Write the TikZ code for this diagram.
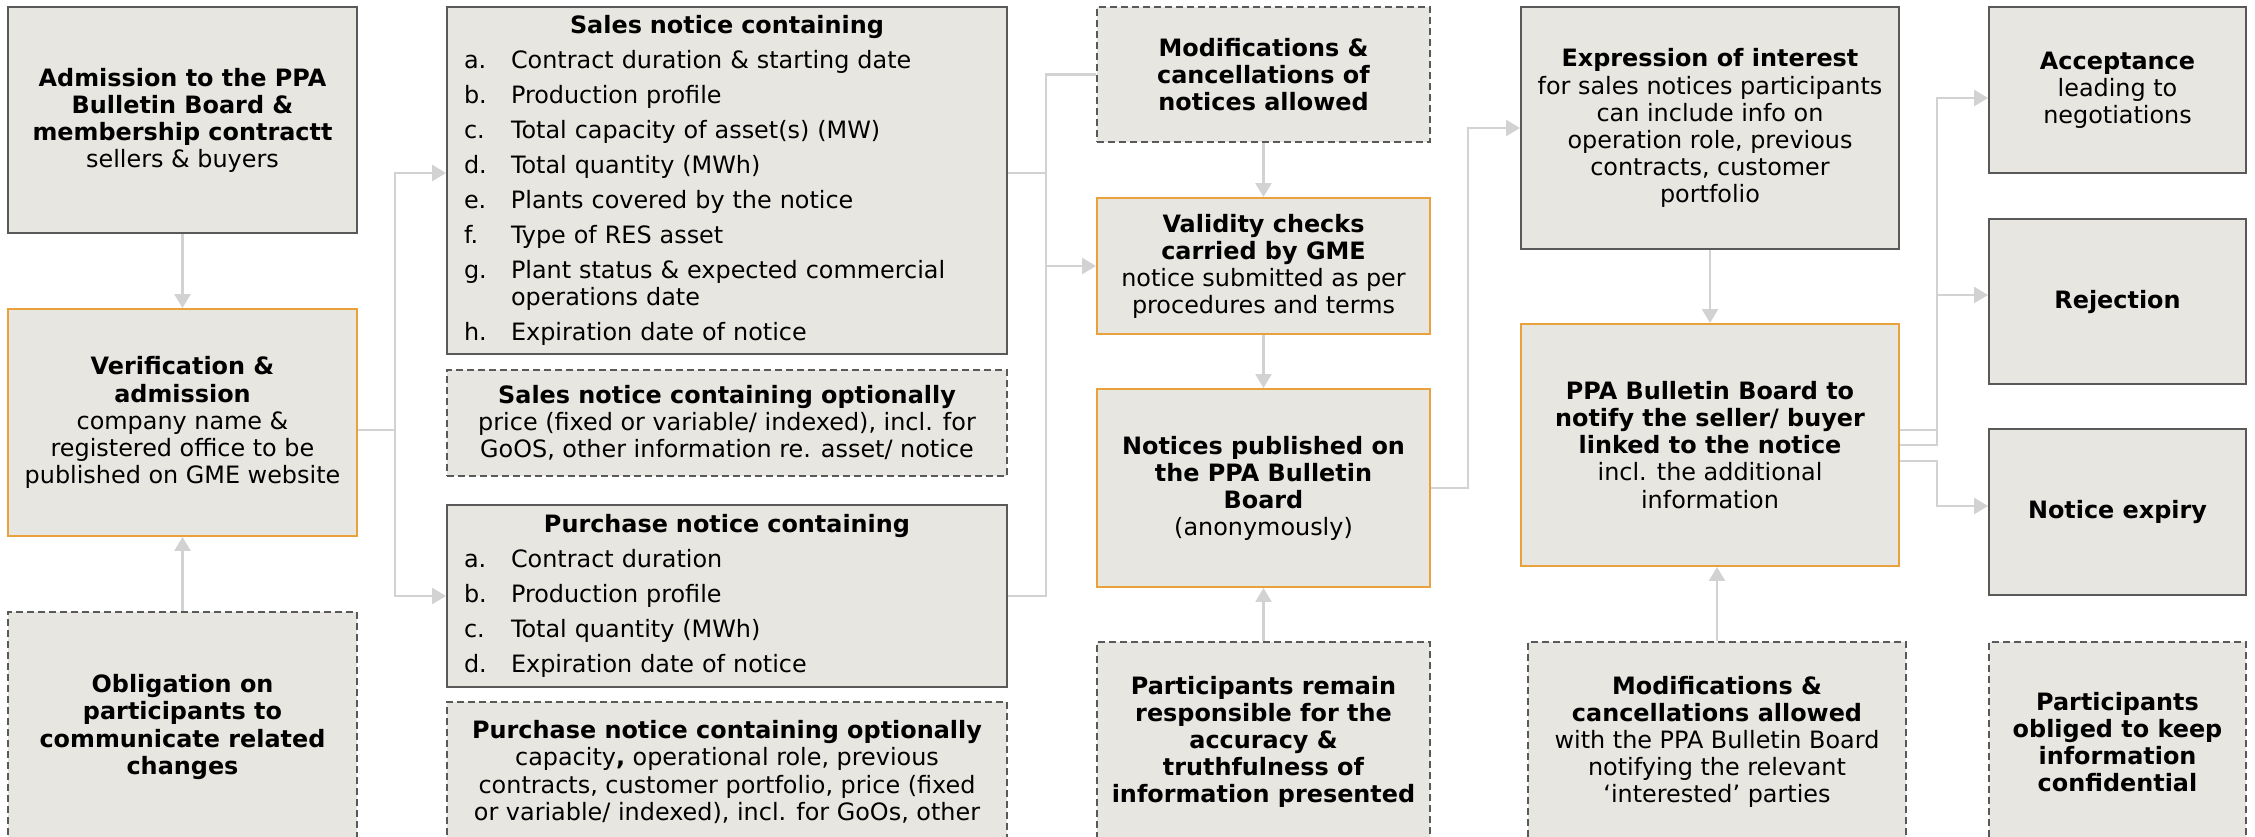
\documentclass[tikz,border=0pt]{standalone}
\usepackage{fontspec}
\setmainfont{DejaVu Sans}
\usetikzlibrary{arrows.meta,calc}

\definecolor{cardfill}{RGB}{232,230,224}
\definecolor{cardedge}{RGB}{89,89,89}
\definecolor{keyedge}{RGB}{233,162,59}
\definecolor{linkgray}{RGB}{210,210,210}

\newdimen\px \px=0.02cm
\newcommand{\cardfont}{\fontsize{13.6pt}{15.4pt}\selectfont}
\newcommand{\itm}[1]{\makebox[47\px][l]{#1}}

\begin{document}
\begin{tikzpicture}
   [x=0.02cm,y=-0.02cm,
   card/.style={draw=cardedge,fill=cardfill,line width=1.1pt,inner sep=0pt,
   	align=center,font=\cardfont},
   keystep/.style={card,draw=keyedge},
   optional/.style={card,dashed,dash pattern=on 0.14cm off 0.08cm},
   wh/.style 2 args={minimum width=#1\px,minimum height=#2\px},
   conn/.style={draw=linkgray,line width=1.4pt},
   flow/.style={conn,-{Triangle[length=0.28cm,width=0.32cm]}}]
   \useasboundingbox (0,0) rectangle (2255,836);

   \node[card,wh={349}{226}] (adm) at (182.5,120)
   	{\textbf{Admission to the PPA}\\\textbf{Bulletin Board \&}\\\textbf{membership contractt}\\sellers \& buyers};
   \node[keystep,wh={349}{227}] (ver) at (182.5,422.5)
   	{\textbf{Verification \&}\\\textbf{admission}\\company name \&\\registered office to be\\published on GME website};
   \node[optional,wh={349}{230}] (obl) at (182.5,727)
   	{\textbf{Obligation on}\\\textbf{participants to}\\\textbf{communicate related}\\\textbf{changes}};

   \node[card,wh={560}{347},text width=526\px,align=left] (sales) at (727,180.5)
   	{\makebox[526\px]{\textbf{Sales notice containing}}\\[8\px]
   	\itm{a.}Contract duration \& starting date\\[8\px]
   	\itm{b.}Production profile\\[8\px]
   	\itm{c.}Total capacity of asset(s) (MW)\\[8\px]
   	\itm{d.}Total quantity (MWh)\\[8\px]
   	\itm{e.}Plants covered by the notice\\[8\px]
   	\itm{f.}Type of RES asset\\[8\px]
   	\itm{g.}Plant status \& expected commercial\\
   	\itm{}operations date\\[8\px]
   	\itm{h.}Expiration date of notice};
   \node[optional,wh={560}{106}] (salesopt) at (727,423)
   	{\textbf{Sales notice containing optionally}\\price (fixed or variable/ indexed), incl. for\\GoOS, other information re. asset/ notice};
   \node[card,wh={560}{182},text width=526\px,align=left] (purch) at (727,596)
   	{\makebox[526\px]{\textbf{Purchase notice containing}}\\[8\px]
   	\itm{a.}Contract duration\\[8\px]
   	\itm{b.}Production profile\\[8\px]
   	\itm{c.}Total quantity (MWh)\\[8\px]
   	\itm{d.}Expiration date of notice};
   \node[optional,wh={560}{140}] (purchopt) at (727,772)
   	{\textbf{Purchase notice containing optionally}\\capacity\textbf{,} operational role, previous\\contracts, customer portfolio, price (fixed\\or variable/ indexed), incl. for GoOs, other};

   \node[optional,wh={333}{135}] (mod) at (1263.5,74.5)
   	{\textbf{Modifications \&}\\\textbf{cancellations of}\\\textbf{notices allowed}};
   \node[keystep,wh={333}{136}] (valid) at (1263.5,266)
   	{\textbf{Validity checks}\\\textbf{carried by GME}\\notice submitted as per\\procedures and terms};
   \node[keystep,wh={333}{198}] (notices) at (1263.5,488)
   	{\textbf{Notices published on}\\\textbf{the PPA Bulletin}\\\textbf{Board}\\(anonymously)};
   \node[optional,wh={333}{200}] (partresp) at (1263.5,742)
   	{\textbf{Participants remain}\\\textbf{responsible for the}\\\textbf{accuracy \&}\\\textbf{truthfulness of}\\\textbf{information presented}};

   \node[card,wh={378}{242}] (expr) at (1710,128)
   	{\textbf{Expression of interest}\\for sales notices participants\\can include info on\\operation role, previous\\contracts, customer\\portfolio};
   \node[keystep,wh={378}{242}] (notify) at (1710,445)
   	{\textbf{PPA Bulletin Board to}\\\textbf{notify the seller/ buyer}\\\textbf{linked to the notice}\\incl. the additional\\information};
   \node[optional,wh={378}{200}] (modallow) at (1717,742)
   	{\textbf{Modifications \&}\\\textbf{cancellations allowed}\\with the PPA Bulletin Board\\notifying the relevant\\`interested' parties};

   \node[card,wh={257}{166}] (accept) at (2117.5,90)
   	{\textbf{Acceptance}\\leading to\\negotiations};
   \node[card,wh={257}{165}] (reject) at (2117.5,301.5) {\textbf{Rejection}};
   \node[card,wh={257}{166}] (expiry) at (2117.5,512) {\textbf{Notice expiry}};
   \node[optional,wh={257}{200}] (oblig) at (2117.5,742)
   	{\textbf{Participants}\\\textbf{obliged to keep}\\\textbf{information}\\\textbf{confidential}};

   \draw[flow] (adm.south) -- (ver.north);
   \draw[flow] (obl.north) -- (ver.south);
   \draw[conn] ($(ver.east)+(0,7.5)$) -- ++(37,0) coordinate (lbus);
   \draw[flow] (lbus) |- ($(sales.west)+(0,-7.5)$);
   \draw[flow] (lbus) |- (purch.west);

   \draw[conn] ($(sales.east)+(0,-7.5)$) -- ++(38,0) coordinate (mbus);
   \draw[conn] (mod.west) -| (mbus) |- (purch.east);
   \draw[flow] (mbus |- valid.west) -- (valid.west);
   \draw[flow] (mod.south) -- (valid.north);
   \draw[flow] (valid.south) -- (notices.north);
   \draw[flow] (partresp.north) -- (notices.south);

   \draw[flow] (notices.east) -- ++(37,0) |- (expr.west);
   \draw[flow] (expr.south) -- (notify.north);
   \draw[flow] (modallow.north) -- (modallow.north |- notify.south);

   \draw[flow] ($(notify.east)+(0,-15)$) -- ++(37,0) coordinate (rbus) |- ($(accept.west)+(0,8)$);
   \draw[flow] (notify.east) -- (notify.east -| rbus) |- ($(reject.west)+(0,-6.5)$);
   \draw[flow] ($(notify.east)+(0,16)$) -- ++(37,0) |- ($(expiry.west)+(0,-6)$);
\end{tikzpicture}
\end{document}
